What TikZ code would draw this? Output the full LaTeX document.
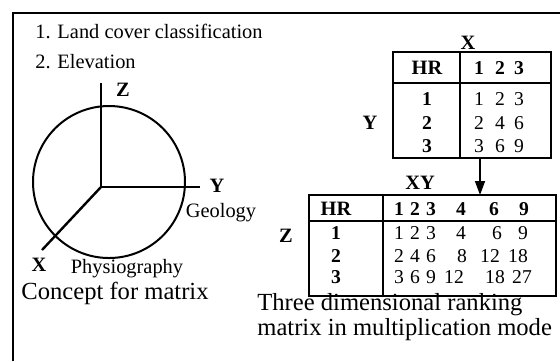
\documentclass[tikz,border=0pt]{standalone}
\usepackage{fontspec}
\setmainfont{Liberation Serif}
\usetikzlibrary{arrows.meta}
\begin{document}
\begin{tikzpicture}[x=0.5pt,y=-0.5pt,
  lbl/.style={inner sep=0pt, font=\fontsize{10.2}{12}\selectfont},
  blbl/.style={inner sep=0pt, font=\fontsize{10.2}{12}\selectfont\bfseries},
  num/.style={inner sep=0pt, font=\fontsize{9.8}{12}\selectfont},
  bnum/.style={inner sep=0pt, font=\fontsize{9.8}{12}\selectfont\bfseries},
  captxt/.style={inner sep=0pt, font=\fontsize{12.3}{12.5}\selectfont, align=left},
  frameline/.style={line width=0.9pt},
  tblline/.style={line width=0.9pt},
  axisline/.style={line width=1.2pt},
  conn/.style={line width=0.8pt, -{Triangle[length=7pt,width=5pt]}}]
\useasboundingbox (0,0) rectangle (560,361);
% frame
\draw[frameline] (13,361) -- (13,13) -- (560,13);
% left concept
\node[lbl, anchor=west] (l1) at (35,31) {1. Land cover classification};
\node[lbl, anchor=west] (l2) at (35,62) {2. Elevation};
\draw[line width=1pt] (109,182) circle[radius=76];
\coordinate (O) at (101,187);
\coordinate (zend) at (101,83);
\coordinate (yend) at (200,187);
\coordinate (xend) at (42,250);
\draw[axisline] (zend) -- (O) -- (yend);
\draw[axisline] (O) -- (xend);
\node[blbl] (zl) at (123,90) {Z};
\node[blbl] (yl) at (217,186) {Y};
\node[blbl] (xl) at (39,265) {X};
\node[lbl] (geo) at (221,213) {Geology};
\node[lbl] (phy) at (127,269) {Physiography};
\node[captxt] (c1) at (115,293) {Concept for matrix};
% table 1
\draw[tblline] (393,52) rectangle (551,158);
\draw[tblline] (393,83) -- (551,83);
\draw[tblline] (460,52) -- (460,158);
\node[blbl] (t1x) at (468,43) {X};
\node[blbl] (t1y) at (370,123) {Y};
\node[blbl] (t1hr) at (427,68) {HR};
\foreach \v/\x [count=\i] in {1/479,2/500,3/519}
  \node[bnum] (t1h\i) at (\x,68) {\v};
\foreach \r/\y in {1/99,2/123,3/146}{
  \node[bnum] (t1r\r) at (427,\y) {\r};
}
\foreach \v/\x/\y [count=\i] in {1/479/99,2/500/99,3/519/99,2/479/123,4/500/123,6/519/123,3/479/146,6/500/146,9/519/146}
  \node[num] (t1v\i) at (\x,\y) {\v};
% arrow
\coordinate (t1b) at (480,158);
\coordinate (t2t) at (480,195);
\draw[conn] (t1b) -- (t2t);
% table 2
\draw[tblline] (309,195) rectangle (556,296);
\draw[tblline] (309,221) -- (556,221);
\draw[tblline] (383,195) -- (383,296);
\node[blbl] (t2xy) at (420,183) {XY};
\node[blbl] (t2z) at (286,236) {Z};
\node[blbl] (t2hr) at (336,209) {HR};
\foreach \v/\x [count=\i] in {1/399,2/415,3/431,4/461,6/494,9/524}
  \node[bnum] (t2h\i) at (\x,209) {\v};
\foreach \r/\y in {1/233,2/256,3/277}{
  \node[bnum] (t2r\r) at (336,\y) {\r};
}
\foreach \v/\x/\y [count=\i] in {1/399/233,2/415/233,3/431/233,4/461/233,6/497/233,9/523/233,
  2/399/256,4/415/256,6/431/256,8/462/256,12/490/256,18/518/256,
  3/399/277,6/415/277,9/431/277,12/454/277,18/495/277,27/522/277}
  \node[num] (t2v\i) at (\x,\y) {\v};
\node[captxt, anchor=west] (c2) at (257,317.5) {Three dimensional ranking\\matrix in multiplication mode};
\end{tikzpicture}
\end{document}
